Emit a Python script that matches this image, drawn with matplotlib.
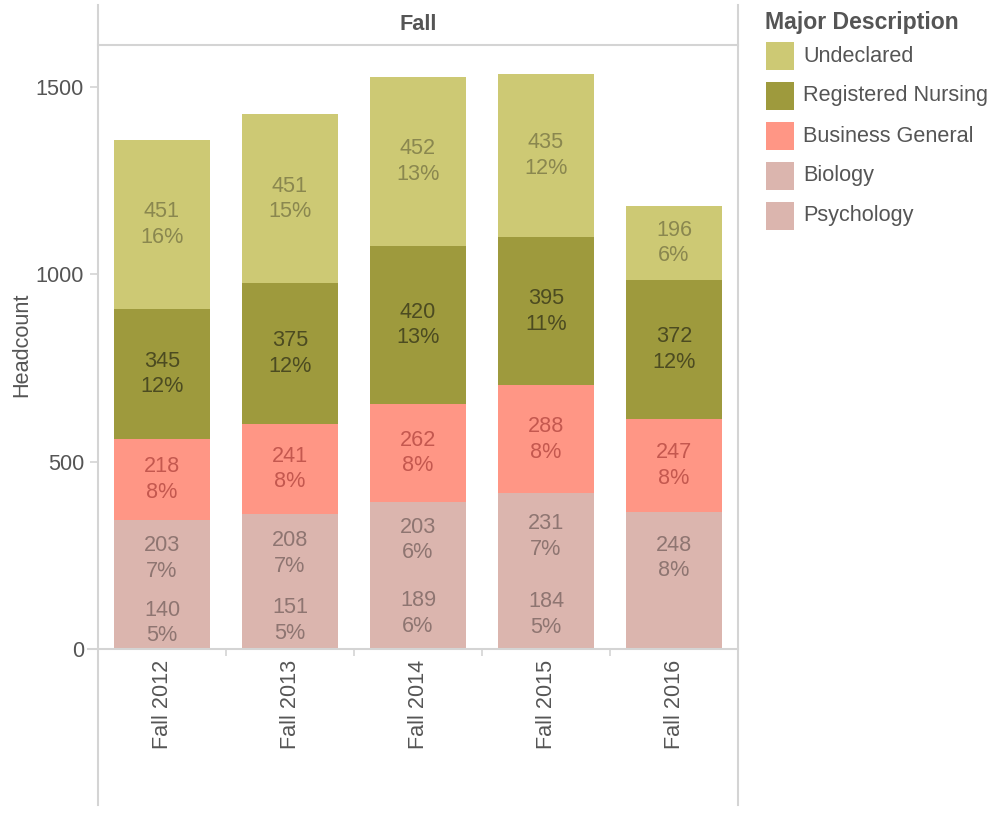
import numpy as np
import matplotlib
matplotlib.use('Agg')
import matplotlib.pyplot as plt
from matplotlib.lines import Line2D
from matplotlib.patches import Rectangle

# ========== 数据 ==========
terms = ['Fall 2012', 'Fall 2013', 'Fall 2014', 'Fall 2015', 'Fall 2016']
majors = ['Psychology', 'Biology', 'Business General', 'Registered Nursing', 'Undeclared']

psychology = [140, 151, 189, 184, 118]
biology = [203, 208, 203, 231, 248]
business = [218, 241, 262, 288, 247]
nursing = [345, 375, 420, 395, 372]
undeclared = [451, 451, 452, 435, 196]

pct_psychology = [5, 5, 6, 5, None]   # 2016 label is hidden in the original
pct_biology = [7, 7, 6, 7, 8]
pct_business = [8, 8, 8, 8, 8]
pct_nursing = [12, 12, 13, 11, 12]
pct_undeclared = [16, 15, 13, 12, 6]

yticks = [0, 500, 1000, 1500]
# ==========================

W, H = 994, 836
plt.rcParams['font.family'] = ['Liberation Sans', 'DejaVu Sans']
FS = 15.6
GRID = '#d4d4d4'
TXT = '#555555'

series = [psychology, biology, business, nursing, undeclared]
pcts = [pct_psychology, pct_biology, pct_business, pct_nursing, pct_undeclared]
colors = ['#dbb5ae', '#dbb5ae', '#ff9685', '#9e9a3d', '#cdc974']
label_colors = ['#8e7571', '#8e7571', '#c4584f', '#4c4b21', '#8a874f']


def fx(px):
    return px / W


def fy(py):
    return 1 - py / H


fig = plt.figure(figsize=(W / 100, H / 100), dpi=100)
ax = fig.add_axes([fx(98), fy(649), fx(738) - fx(98), fy(45) - fy(649)])

x = np.arange(len(terms))
bottom = np.zeros(len(terms))
for vals, pc, col, lcol in zip(series, pcts, colors, label_colors):
    vals = np.array(vals, dtype=float)
    ax.bar(x, vals, width=0.75, bottom=bottom, color=col, edgecolor='none', zorder=2)
    for i in range(len(terms)):
        if pc[i] is None:
            continue
        ax.text(x[i], bottom[i] + vals[i] / 2, f'{int(vals[i])}\n{pc[i]}%',
                ha='center', va='center', fontsize=FS, color=lcol,
                linespacing=1.28, zorder=3)
    bottom += vals

ax.set_xlim(-0.5, len(terms) - 0.5)
ax.set_ylim(0, 604 / 0.375)

for s in ax.spines.values():
    s.set_visible(False)

ax.set_yticks(yticks)
ax.set_yticklabels([str(v) for v in yticks])
ax.tick_params(axis='y', length=6, width=1.2, color=GRID, labelsize=FS,
               labelcolor=TXT, pad=4)
ax.set_xticks(x)
ax.set_xticklabels(terms, rotation=90, va='top', ha='center')
ax.tick_params(axis='x', which='major', length=0, labelsize=FS,
               labelcolor=TXT, pad=8)
ax.set_xticks(x[:-1] + 0.5, minor=True)
ax.tick_params(axis='x', which='minor', length=5, width=1.2, color=GRID)

# 边框线
line_kw = dict(color=GRID, lw=1.5, transform=fig.transFigure)
fig.add_artist(Line2D([fx(98), fx(98)], [fy(5), fy(805)], **line_kw))
fig.add_artist(Line2D([fx(738), fx(738)], [fy(5), fy(805)], **line_kw))
fig.add_artist(Line2D([fx(98), fx(738)], [fy(45), fy(45)], **line_kw))
fig.add_artist(Line2D([fx(88), fx(738)], [fy(649), fy(649)], **line_kw))

fig.text(fx(418), fy(25), 'Fall', ha='center', va='center', fontsize=FS,
         fontweight='bold', color=TXT)
fig.text(fx(22), fy(345), 'Headcount', ha='center', va='center', rotation=90,
         fontsize=FS, color=TXT)

# 图例
fig.text(fx(765), fy(23), 'Major Description', ha='left', va='center',
         fontsize=16.6, fontweight='bold', color=TXT)
for k, idx in enumerate(range(len(majors) - 1, -1, -1)):
    yc = 56 + 40 * k
    fig.add_artist(Rectangle((fx(766), fy(yc + 14)), fx(28), 28 / H,
                             transform=fig.transFigure, color=colors[idx], lw=0))
    fig.text(fx(803), fy(yc), majors[idx], ha='left', va='center',
             fontsize=FS, color=TXT)

fig.savefig('out.png', dpi=100)
